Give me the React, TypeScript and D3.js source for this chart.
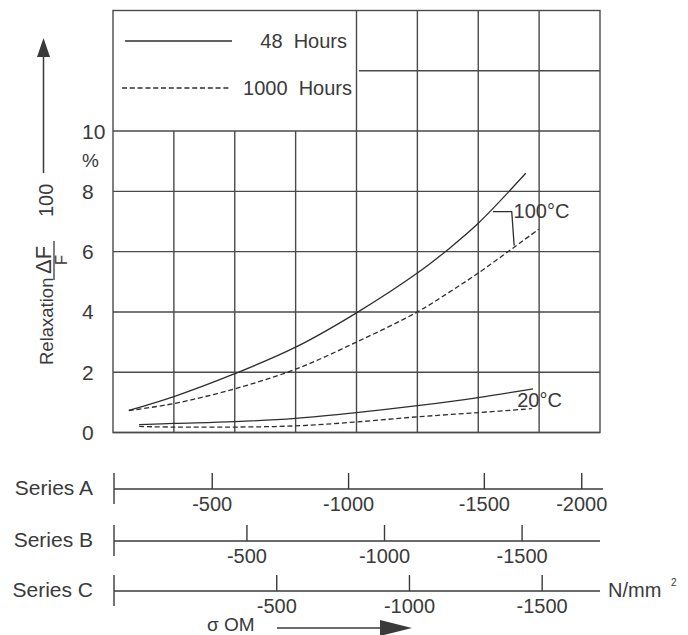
import React from "react";
import * as d3 from "d3";

// ---- data (x in stress-grid columns 0..8, y in % relaxation) ----
const gridColsX = [0.26, 1, 2, 3, 4, 5, 5.52, 6, 6.78];
const hot48 = [0.73, 1.19, 1.95, 2.83, 3.97, 5.29, 6.1, 6.94, 8.6];
const gridColsXd = [0.26, 1, 2, 3, 4, 5, 5.52, 6, 6.99];
const hot1000 = [0.73, 0.96, 1.45, 2.1, 3.0, 4.0, 4.65, 5.29, 6.74];
const coldX = [0.43, 1, 2, 3, 4, 5, 6, 6.9];
const cold48 = [0.26, 0.3, 0.36, 0.47, 0.66, 0.89, 1.16, 1.45];
const coldXd = [0.43, 1, 2, 3, 4, 5, 6, 6.88];
const cold1000 = [0.2, 0.18, 0.18, 0.22, 0.35, 0.52, 0.66, 0.79];

const yTicks = [0, 2, 4, 6, 8, 10];
const seriesNames = ["Series A", "Series B", "Series C"];
const seriesATicks = [-500, -1000, -1500, -2000];
const seriesAPos = [1.63, 3.87, 6.1, 7.7];
const seriesBTicks = [-500, -1000, -1500];
const seriesBPos = [2.2, 4.46, 6.72];
const seriesCTicks = [-500, -1000, -1500];
const seriesCPos = [2.69, 4.87, 7.05];
const seriesEnd = [8.05, 8, 8];

const FONT = "'Liberation Sans', Arial, Helvetica, sans-serif";
const INK = "#3a3a3a";

export default function App() {
  const x = d3.scaleLinear().domain([0, 8]).range([113, 600]);
  const y = d3.scaleLinear().domain([0, 14]).range([432.5, 10.5]);
  const line = d3
    .line<[number, number]>()
    .x((d) => x(d[0]))
    .y((d) => y(d[1]))
    .curve(d3.curveCatmullRom.alpha(0.5));
  const zip = (a: number[], b: number[]) => a.map((v, i) => [v, b[i]] as [number, number]);

  const axes = [
    { ticks: seriesATicks, s: d3.scaleLinear().domain(seriesATicks).range(seriesAPos), yPos: 489 },
    { ticks: seriesBTicks, s: d3.scaleLinear().domain(seriesBTicks).range(seriesBPos), yPos: 541 },
    { ticks: seriesCTicks, s: d3.scaleLinear().domain(seriesCTicks).range(seriesCPos), yPos: 591 },
  ];

  const dash = "5,2.8";
  return (
    <svg
      width={688}
      height={635}
      style={{ position: "absolute", left: 0, top: 0, background: "#fff" }}
      fontFamily={FONT}
    >
      <rect x={0} y={0} width={688} height={635} fill="#fff" />
      {/* grid */}
      <g stroke="#4a4a4a" strokeWidth={1.4} fill="none">
        {yTicks.map((t) => (
          <line key={"h" + t} x1={x(0)} x2={x(8)} y1={y(t)} y2={y(t)} />
        ))}
        <line x1={x(4.04)} x2={x(8)} y1={y(12)} y2={y(12)} />
        {[1, 2, 3].map((k) => (
          <line key={"v" + k} x1={x(k)} x2={x(k)} y1={y(0)} y2={y(10)} />
        ))}
        {[4, 5, 6, 7].map((k) => (
          <line key={"w" + k} x1={x(k)} x2={x(k)} y1={y(0)} y2={y(14)} />
        ))}
        <rect x={x(0)} y={y(14)} width={x(8) - x(0)} height={y(0) - y(14)} />
      </g>

      {/* curves */}
      <g fill="none" stroke="#2e2e2e" strokeWidth={1.3}>
        <path d={line(zip(gridColsX, hot48)) || ""} />
        <path d={line(zip(gridColsXd, hot1000)) || ""} strokeDasharray={dash} />
        <path d={line(zip(coldX, cold48)) || ""} />
        <path d={line(zip(coldXd, cold1000)) || ""} strokeDasharray={dash} />
        <path
          d={`M${x(6.24)},${y(7.33)}L${x(6.55)},${y(7.33)}L${x(6.59)},${y(6.2)}`}
        />
      </g>
      <text x={x(6.58)} y={y(7.13)} fontSize={20} fill={INK}>100°C</text>
      <text x={x(6.64)} y={y(0.83)} fontSize={20} fill={INK}>20°C</text>

      {/* legend */}
      <line x1={125} x2={232} y1={41} y2={41} stroke="#2e2e2e" strokeWidth={1.3} />
      <line x1={122} x2={229} y1={88} y2={88} stroke="#2e2e2e" strokeWidth={1.3} strokeDasharray={dash} />
      <text x={347} y={48} fontSize={20} textAnchor="end" fill={INK} style={{ whiteSpace: "pre" }}>
        {"48  Hours"}
      </text>
      <text x={352} y={95} fontSize={20} textAnchor="end" fill={INK} style={{ whiteSpace: "pre" }}>
        {"1000  Hours"}
      </text>

      {/* y tick labels */}
      {yTicks.map((t) => (
        <text key={"yl" + t} x={82} y={y(t) + 7.5} fontSize={21} fill={INK}>
          {t}
        </text>
      ))}
      <text x={82} y={167} fontSize={19} fill={INK}>%</text>

      {/* y axis title */}
      <line x1={43.5} x2={43.5} y1={173} y2={55} stroke={INK} strokeWidth={1.5} />
      <polygon points="43.5,38 37,57 50,57" fill={INK} />
      <g transform="rotate(-90)" fill={INK}>
        <text x={-365} y={53} fontSize={18.5}>Relaxation</text>
        <text x={-260} y={51} fontSize={22} textAnchor="middle">ΔF</text>
        <line x1={-280} x2={-241} y1={54} y2={54} stroke={INK} strokeWidth={1.3} />
        <text x={-260} y={67} fontSize={17} textAnchor="middle">F</text>
        <text x={-217} y={53} fontSize={20}>100</text>
      </g>

      {/* secondary stress axes */}
      {axes.map((a, i) => (
        <g key={"ax" + i} stroke="#3a3a3a" strokeWidth={1.4}>
          <line x1={x(0) + 1} x2={x(seriesEnd[i])} y1={a.yPos} y2={a.yPos} />
          <line x1={x(0) + 1} x2={x(0) + 1} y1={a.yPos - 16} y2={a.yPos + 15} />
          {a.ticks.map((t) => (
            <g key={t}>
              <line x1={x(a.s(t))} x2={x(a.s(t))} y1={a.yPos - 16} y2={a.yPos} />
              <text
                x={x(a.s(t))}
                y={a.yPos + 22}
                fontSize={20}
                textAnchor="middle"
                stroke="none"
                fill={INK}
              >
                {t}
              </text>
            </g>
          ))}
          <text x={93} y={a.yPos + 6} fontSize={21} textAnchor="end" stroke="none" fill={INK}>
            {seriesNames[i]}
          </text>
        </g>
      ))}
      <text x={608} y={597} fontSize={20} fill={INK}>N/mm</text>
      <text x={671} y={586} fontSize={10} fill={INK}>2</text>

      {/* sigma arrow */}
      <text x={207} y={631} fontSize={19} fill={INK}>σ OM</text>
      <line x1={277} x2={385} y1={628} y2={628} stroke={INK} strokeWidth={1.5} />
      <polygon points="412,628 380,620 380,636" fill={INK} />
    </svg>
  );
}
